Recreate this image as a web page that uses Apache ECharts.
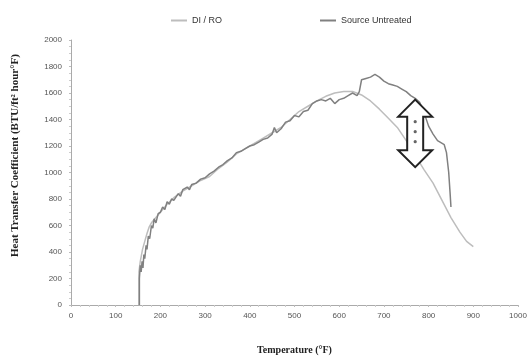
<!DOCTYPE html>
<html><head><meta charset="utf-8">
<script src="https://cdn.jsdelivr.net/npm/echarts@6/dist/echarts.min.js"></script>
<style>html,body{margin:0;padding:0;background:#fff}#c{width:530px;height:360px}</style>
</head><body><div id="c"></div>
<script>
var seriesNames = ['DI / RO', 'Source Untreated'];
var xTicks = [0,100,200,300,400,500,600,700,800,900,1000];
var yTicks = [0,200,400,600,800,1000,1200,1400,1600,1800,2000];
var diroX = [152,152,155,160,165,170,175,180,190,200,215,230,250,270,290,310,330,350,370,390,410,430,450,470,490,510,530,550,570,590,610,630,650,670,690,710,730,750,770,790,810,830,850,870,885,900];
var diroY = [0,250,330,420,480,540,590,620,660,700,760,810,860,900,940,970,1030,1080,1140,1180,1220,1260,1300,1340,1400,1460,1500,1540,1575,1600,1612,1612,1585,1540,1478,1410,1340,1240,1130,1020,920,790,660,550,480,440];
var srcX = [153,153,155,157,159,161,163,165,168,170,173,176,180,183,186,190,195,200,205,210,215,220,225,230,240,245,250,260,265,270,280,290,300,310,320,330,340,350,360,370,380,390,400,410,420,430,440,450,455,460,470,480,490,500,510,520,530,540,550,560,570,580,590,600,610,620,630,640,645,650,660,670,680,690,700,710,720,730,740,750,760,770,780,790,800,810,820,835,840,845,848,850];
var srcY = [0,200,300,250,330,280,380,350,450,420,520,500,600,580,650,620,690,700,740,720,780,760,800,790,840,820,870,890,870,910,920,950,960,990,1010,1040,1060,1090,1110,1150,1160,1180,1200,1210,1230,1250,1260,1290,1340,1300,1330,1380,1390,1430,1420,1460,1470,1520,1540,1550,1540,1560,1520,1550,1560,1580,1600,1580,1610,1700,1710,1720,1740,1720,1690,1670,1660,1650,1630,1610,1580,1560,1530,1450,1350,1290,1240,1210,1150,1000,850,740];
var arrowX = 770, arrowTop = 1550, arrowBottom = 1040;

function zip(a,b){return a.map(function(v,i){return [v,b[i]];});}
var chart = echarts.init(document.getElementById('c'));
var labelStyle = {color:'#555', fontSize:8, fontFamily:'Liberation Sans', formatter:function(v){return String(v);}};
chart.setOption({
  animation:false,
  grid:{left:71,right:12,top:40,bottom:55},
  legend:{top:11,left:166,itemGap:98,itemWidth:16,itemHeight:2,icon:'rect',
    textStyle:{color:'#333',fontSize:9,fontFamily:'Liberation Sans'},
    data:seriesNames},
  xAxis:{type:'value',min:xTicks[0],max:xTicks[xTicks.length-1],interval:100,
    name:'Temperature (°F)',nameLocation:'middle',nameGap:40,
    nameTextStyle:{fontFamily:'Liberation Serif',fontWeight:'bold',fontSize:10,color:'#222'},
    axisLine:{lineStyle:{color:'#aaa'}},axisTick:{show:true,length:2,lineStyle:{color:'#bbb'}},
    minorTick:{show:true,splitNumber:5,length:2,lineStyle:{color:'#ccc'}},
    splitLine:{show:false},axisLabel:Object.assign({margin:7},labelStyle)},
  yAxis:{type:'value',min:yTicks[0],max:yTicks[yTicks.length-1],interval:200,
    name:'Heat Transfer Coefficient (BTU/ft² hour°F)',nameLocation:'middle',nameGap:50,
    nameTextStyle:{fontFamily:'Liberation Serif',fontWeight:'bold',fontSize:11,color:'#222',padding:[0,0,0,34]},
    axisLine:{show:true,lineStyle:{color:'#aaa'}},axisTick:{show:true,length:2,lineStyle:{color:'#bbb'}},
    minorTick:{show:true,splitNumber:4,length:2,lineStyle:{color:'#ccc'}},
    splitLine:{show:false},axisLabel:Object.assign({margin:9},labelStyle)},
  series:[
    {name:seriesNames[0],type:'line',showSymbol:false,data:zip(diroX,diroY),
      itemStyle:{color:'#bdbdbd'},lineStyle:{color:'#bdbdbd',width:1.5},z:2},
    {name:seriesNames[1],type:'line',showSymbol:false,data:zip(srcX,srcY),
      itemStyle:{color:'#808080'},lineStyle:{color:'#808080',width:1.5},z:3}
  ]
});
var pTop = chart.convertToPixel({gridIndex:0},[arrowX,arrowTop]);
var pBot = chart.convertToPixel({gridIndex:0},[arrowX,arrowBottom]);
var cx = pTop[0], t = pTop[1], b = pBot[1], hw = 17, sw = 8, hh = 17;
var pts = [[cx,t],[cx+hw,t+hh],[cx+sw,t+hh],[cx+sw,b-hh],[cx+hw,b-hh],[cx,b],[cx-hw,b-hh],[cx-sw,b-hh],[cx-sw,t+hh],[cx-hw,t+hh]];
var els = [{type:'polygon',shape:{points:pts},style:{fill:'#fff',stroke:'#222',lineWidth:2},z:10}];
for (var i=0;i<3;i++){
  els.push({type:'circle',shape:{cx:cx,cy:t+22+i*10,r:1.6},style:{fill:'#666'},z:11});
}
chart.setOption({graphic:els});
</script></body></html>
